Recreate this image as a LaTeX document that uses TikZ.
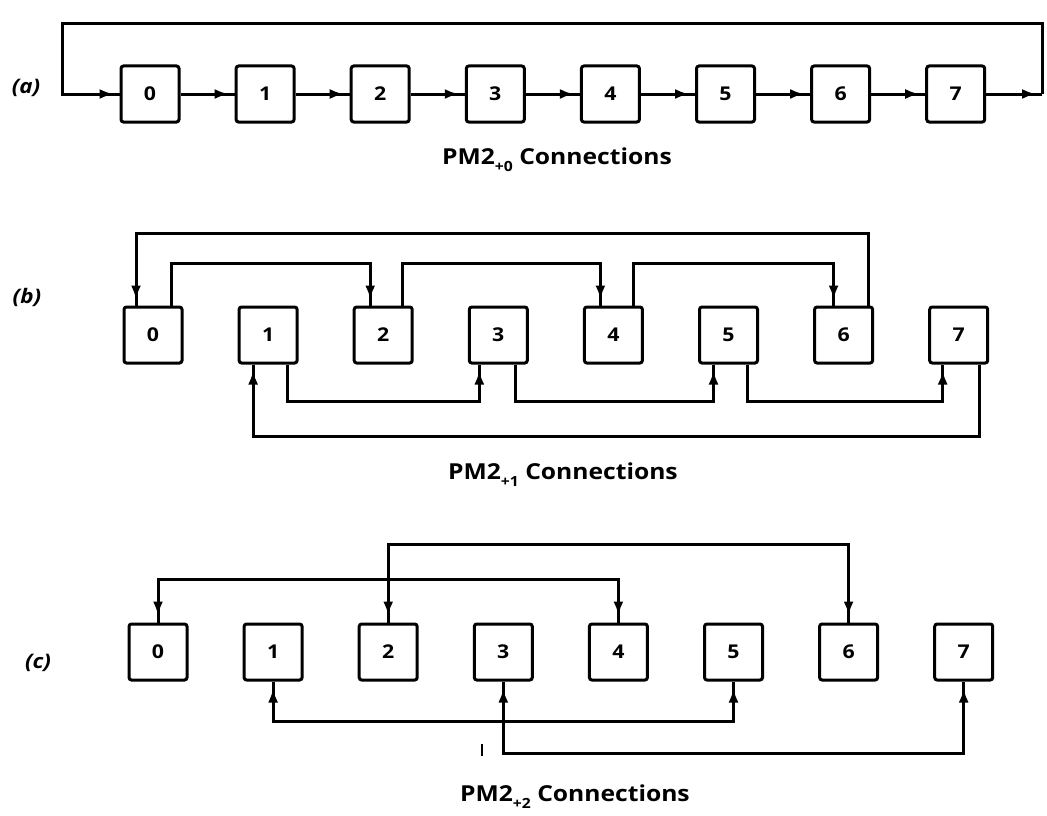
\documentclass[tikz,border=0pt]{standalone}
\usepackage{fontspec}
\setmainfont{Open Sans}[FakeStretch=1.12]
\usetikzlibrary{arrows.meta,decorations.markings}

% small lowered index used in the captions
\newcommand{\pmidx}[1]{\raisebox{-0.32em}{\fontsize{14}{14}\selectfont #1}}

\begin{document}
\begin{tikzpicture}[x=1pt,y=-1pt,
  pe/.style={draw, line width=3pt, minimum width=58pt, minimum height=56pt,
    rounded corners=2.5pt, inner sep=0pt, font=\fontsize{19}{19}\selectfont\bfseries},
  wire/.style={line width=3pt},
  tipend/.style={postaction={decorate}, decoration={markings,
    mark=at position -6pt with {\arrow{Latex[length=14pt,width=10pt]}}}},
  tipboth/.style={postaction={decorate}, decoration={markings,
    mark=at position 7pt with {\arrowreversed{Latex[length=14pt,width=10pt]}},
    mark=at position -7pt with {\arrow{Latex[length=14pt,width=10pt]}}}},
  tag/.style={font=\fontsize{20}{20}\selectfont\bfseries\itshape},
  caption/.style={font=\fontsize{22}{22}\selectfont\bfseries},
]
\useasboundingbox (0,0) rectangle (1047,816);

% ---------------- (a) ring: i -> i+1 ----------------
\node[tag] (la) at (26,88) {(a)};
\foreach \i in {0,...,7}
  \node[pe] (a\i) at ({150+115.1*\i},94) {\i};
\foreach \i [evaluate=\i as \j using int(\i+1)] in {0,...,6}
  \draw[wire,tipend] (a\i.east) -- (a\j.west);
\coordinate (aR)  at (1042,94);
\coordinate (aRT) at (1042,24);
\coordinate (aLT) at (62,24);
\coordinate (aL)  at (62,94);
\draw[wire,tipend] (a7.east) -- (aR);
\draw[wire,tipend] (aR) -- (aRT) -- (aLT) -- (aL) -- (a0.west);
\node[caption] (capa) at (557,160) {PM2\pmidx{+0} Connections};

% ---------------- (b) i -> i+2 ----------------
\node[tag] (lb) at (27,297) {(b)};
\foreach \i in {0,...,7}
  \node[pe] (b\i) at ({153+115.1*\i},335) {\i};
% even nodes, above
\draw[wire,tipend] ([xshift=18pt]b0.north) -- ++(0,-42) -| ([xshift=-13pt]b2.north);
\draw[wire,tipend] ([xshift=19pt]b2.north) -- ++(0,-42) -| ([xshift=-13pt]b4.north);
\draw[wire,tipend] ([xshift=20pt]b4.north) -- ++(0,-42) -| ([xshift=-10pt]b6.north);
\draw[wire,tipend] ([xshift=25pt]b6.north) -- ++(0,-72) -| ([xshift=-17pt]b0.north);
% odd nodes, below
\draw[wire,tipend] ([xshift=19pt]b1.south) -- ++(0,37) -| ([xshift=-19pt]b3.south);
\draw[wire,tipend] ([xshift=17pt]b3.south) -- ++(0,37) -| ([xshift=-15pt]b5.south);
\draw[wire,tipend] ([xshift=19pt]b5.south) -- ++(0,37) -| ([xshift=-16pt]b7.south);
\draw[wire,tipend] ([xshift=21pt]b7.south) -- ++(0,72) -| ([xshift=-15pt]b1.south);
\node[caption] (capb) at (563,475) {PM2\pmidx{+1} Connections};

% ---------------- (c) i <-> i+4 ----------------
\node[tag] (lc) at (38,663) {(c)};
\foreach \i in {0,...,7}
  \node[pe] (c\i) at ({158+115.1*\i},652) {\i};
\draw[wire,tipboth] (c2.north) -- ++(0,-78) -| (c6.north);
\draw[wire,tipboth] (c0.north) -- ++(0,-43) -| (c4.north);
\draw[wire,tipboth] (c1.south) -- ++(0,40) -| (c5.south);
\draw[wire,tipboth] (c3.south) -- ++(0,72) -| (c7.south);
\coordinate (tk1) at (482,744);
\coordinate (tk2) at (482,756);
\draw[line width=2.4pt] (tk1) -- (tk2);
\node[caption] (capc) at (575,797) {PM2\pmidx{+2} Connections};
\end{tikzpicture}
\end{document}
